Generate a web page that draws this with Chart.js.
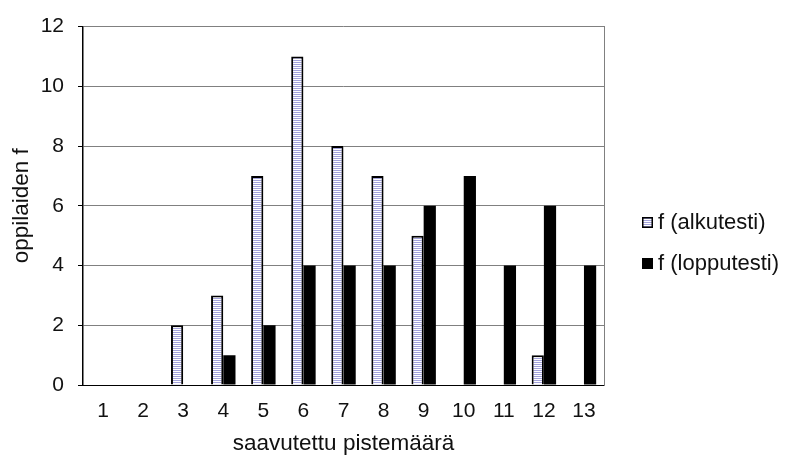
<!DOCTYPE html>
<html>
<head>
<meta charset="utf-8">
<script src="https://cdn.jsdelivr.net/npm/chart.js@4/dist/chart.umd.min.js"></script>
<style>
  html, body { margin: 0; padding: 0; background: #fff; }
  canvas { display: block; }
</style>
</head>
<body>
<canvas id="c" width="785" height="455"></canvas>
<script>
// Score categories and frequencies of students
const categories = ['1', '2', '3', '4', '5', '6', '7', '8', '9', '10', '11', '12', '13'];
const alkutesti  = [0, 0, 2, 3, 7, 11, 8, 7, 5, 0, 0, 1, 0];
const lopputesti = [0, 0, 0, 1, 2, 4, 4, 4, 6, 7, 4, 6, 4];
const seriesNames = ['f (alkutesti)', 'f (lopputesti)'];
const yRange = { min: 0, max: 12, step: 2 };
const axisTitles = { x: 'saavutettu pistemäärä', y: 'oppilaiden f' };

const FONT = '"Liberation Sans", Arial, sans-serif';
const TEXT = '#111';

const canvas = document.getElementById('c');
const ctx = canvas.getContext('2d');

// Horizontal lavender/white stripes for the first series
function stripePattern() {
  const p = document.createElement('canvas');
  p.width = 4; p.height = 2;
  const g = p.getContext('2d');
  g.fillStyle = '#ffffff';
  g.fillRect(0, 0, 4, 2);
  g.fillStyle = '#a3a3dc';
  g.fillRect(0, 0, 4, 1);
  return ctx.createPattern(p, 'repeat');
}

// Legend drawn to the right of the plot area
const sideLegend = {
  id: 'sideLegend',
  afterDraw(chart) {
    const c = chart.ctx, a = chart.chartArea;
    const mid = (a.top + a.bottom) / 2 + 38;
    const x = a.right + 38;
    chart.data.datasets.forEach((ds, i) => {
      const y = Math.round(mid + (i - 0.5) * 41);
      c.save();
      c.fillStyle = ds.backgroundColor;
      c.fillRect(x, y - 6, 11, 11);
      c.strokeStyle = '#000';
      c.lineWidth = 1.5;
      c.strokeRect(x + 0.75, y - 5.25, 9.5, 9.5);
      c.fillStyle = TEXT;
      c.font = '22px ' + FONT;
      c.textBaseline = 'middle';
      c.textAlign = 'left';
      c.fillText(ds.label, x + 16, y);
      c.restore();
    });
  }
};

new Chart(canvas, {
  type: 'bar',
  data: {
    labels: categories,
    datasets: [
      {
        label: seriesNames[0],
        data: alkutesti,
        backgroundColor: stripePattern(),
        borderColor: '#000',
        borderWidth: 2,
        borderSkipped: 'bottom',
        categoryPercentage: 0.61,
        barPercentage: 1.0
      },
      {
        label: seriesNames[1],
        data: lopputesti,
        backgroundColor: '#000',
        borderColor: '#000',
        borderWidth: 0,
        categoryPercentage: 0.61,
        barPercentage: 1.0
      }
    ]
  },
  options: {
    responsive: false,
    animation: false,
    layout: { padding: { top: 19, right: 181, bottom: 0, left: 0 } },
    plugins: {
      legend: { display: false },
      tooltip: { enabled: false }
    },
    scales: {
      x: {
        grid: { display: true, drawOnChartArea: false, drawTicks: false },
        border: { color: '#000', width: 1 },
        ticks: { color: TEXT, font: { family: FONT, size: 21 }, padding: 14, maxRotation: 0 },
        title: {
          display: true, text: axisTitles.x, color: TEXT,
          font: { family: FONT, size: 22.5, lineHeight: 1 },
          padding: { top: 0, bottom: 0 }
        },
        afterFit(s) { s.height = 70; }
      },
      y: {
        min: yRange.min, max: yRange.max,
        ticks: { stepSize: yRange.step, color: TEXT, font: { family: FONT, size: 21 }, padding: 14 },
        grid: {
          color: (c) => (c.tick && c.tick.value === 0 ? '#000' : '#808080'),
          lineWidth: 1,
          drawTicks: true,
          tickLength: 5,
          tickColor: '#000'
        },
        border: { color: '#000', width: 1.5 },
        title: {
          display: true, text: axisTitles.y, color: TEXT,
          font: { family: FONT, size: 22.5, lineHeight: 1.2 },
          padding: { top: 8, bottom: 0 }
        },
        afterFit(s) { s.width = 83; }
      },
      yRight: {
        position: 'right',
        min: yRange.min, max: yRange.max,
        grid: { display: false },
        ticks: { display: false },
        border: { color: '#808080', width: 1 },
        afterFit(s) { s.width = 0; }
      }
    }
  },
  plugins: [sideLegend]
});
</script>
</body>
</html>
